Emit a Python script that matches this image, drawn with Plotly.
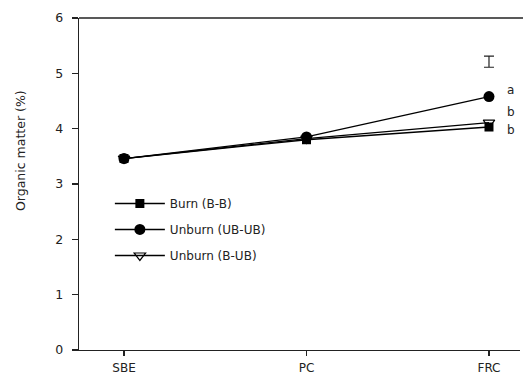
import plotly.graph_objects as go

categories = ["SBE", "PC", "FRC"]
burn_bb = [3.46, 3.80, 4.03]
unburn_ubub = [3.46, 3.85, 4.58]
unburn_bub = [3.46, 3.82, 4.11]
series_names = ["Burn (B-B)", "Unburn (UB-UB)", "Unburn (B-UB)"]
lsd_x = ["FRC"]
lsd_center = [5.21]
lsd_half = [0.10]
letters = ["a", "b", "b"]
letter_y = [4.69, 4.30, 3.97]
y_ticks = [0, 1, 2, 3, 4, 5, 6]

FONT = "DejaVu Sans, Verdana, sans-serif"
TXT = "#222"

fig = go.Figure()
specs = [
    (burn_bb, dict(symbol="square", size=9, color="black")),
    (unburn_ubub, dict(symbol="circle", size=11, color="black")),
    (unburn_bub, dict(symbol="triangle-down-open", size=10, color="black",
                      line=dict(color="black", width=1.2))),
]
for i, (vals, mk) in enumerate(specs):
    fig.add_trace(go.Scatter(
        x=categories, y=vals, mode="lines+markers", name=series_names[i],
        legendgroup=str(i),
        line=dict(color="black", width=1.3),
        marker=mk,
        cliponaxis=True,
    ))

# LSD bar
fig.add_trace(go.Scatter(
    x=lsd_x, y=lsd_center, mode="markers", showlegend=False,
    marker=dict(size=1, color="rgba(0,0,0,0)"),
    error_y=dict(type="data", array=lsd_half, symmetric=True,
                 color=TXT, thickness=1.2, width=5),
))

for t, yv in zip(letters, letter_y):
    fig.add_annotation(x="FRC", y=yv, text=t, showarrow=False, borderpad=0,
                       xshift=22, font=dict(size=12, color=TXT, family=FONT))

fig.add_annotation(xref="paper", yref="paper", x=-0.131, y=0.6, text="Organic matter (%)",
                   textangle=-90, showarrow=False, xanchor="center", yanchor="middle",
                   font=dict(size=12.5, color=TXT, family=FONT))

fig.add_shape(type="line", xref="paper", yref="paper", x0=0, x1=1.01, y0=1, y1=1,
              line=dict(color=TXT, width=1.3))

fig.update_layout(
    template="none",
    width=523, height=376,
    margin=dict(l=79, r=3, t=18, b=26, autoexpand=False),
    paper_bgcolor="white", plot_bgcolor="white",
    font=dict(family=FONT, size=12, color=TXT),
    showlegend=True,
    legend=dict(x=0.07, y=0.485, xanchor="left", yanchor="top",
                bgcolor="rgba(0,0,0,0)", tracegroupgap=7, itemwidth=50,
                font=dict(size=12, family=FONT, color=TXT)),
)
fig.update_xaxes(
    type="category", categoryorder="array", categoryarray=categories,
    range=[-0.2466, 2.1699], automargin=False,
    showline=True, linecolor=TXT, linewidth=1.3,
    ticks="outside", ticklen=5, tickcolor=TXT, tickwidth=1.2,
    showgrid=False, zeroline=False, ticklabelstandoff=1,
    tickfont=dict(size=12),
)
fig.update_yaxes(
    range=[0, 6], tickvals=y_ticks, automargin=False,
    showline=True, linecolor=TXT, linewidth=1.3,
    ticks="outside", ticklen=6, tickcolor=TXT, tickwidth=1.2,
    showgrid=False, zeroline=False, ticklabelstandoff=6,
    tickfont=dict(size=12.5),
)

fig.write_html("out.html", config={"staticPlot": True, "displayModeBar": False})
